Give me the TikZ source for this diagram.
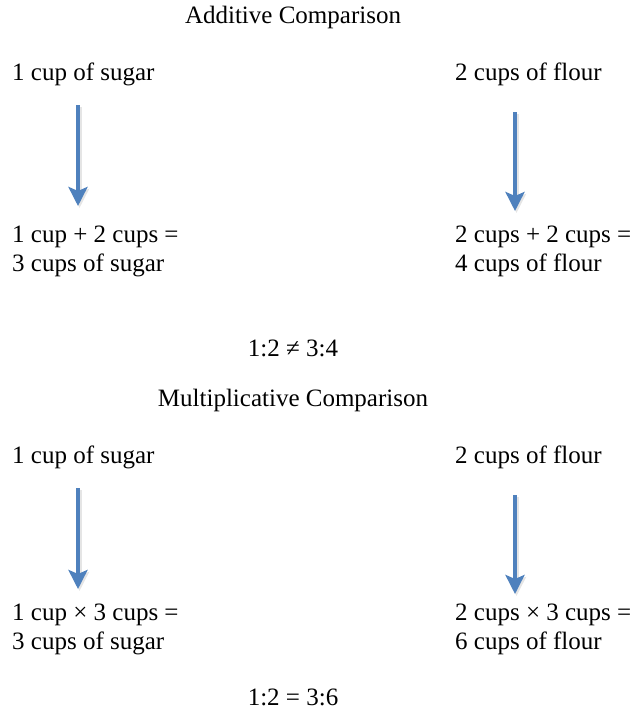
\documentclass[tikz,border=0pt]{standalone}
\usepackage{fontspec}
\setmainfont{Liberation Serif}
\usetikzlibrary{arrows.meta}
\definecolor{arrowblue}{RGB}{79,129,189}
\tikzset{
  txt/.style={inner sep=0pt, font=\fontsize{25}{29}\selectfont},
  lefttxt/.style={txt, anchor=base west, align=left},
  ctxt/.style={txt, anchor=base},
  bluearrow/.style={draw=arrowblue, line width=4.5pt, -{Stealth[width=19pt,length=19pt,inset=4pt]}},
  shadowarrow/.style={draw=black!10, line width=4.5pt, -{Stealth[width=19pt,length=19pt,inset=4pt]}}
}
\begin{document}
\begin{tikzpicture}[x=1pt,y=-1pt]
\useasboundingbox (0,0) rectangle (632,717);
% Additive
\node[ctxt] (t1) at (293,24) {Additive Comparison};
\node[lefttxt] (s1) at (12,80) {1 cup of sugar};
\node[lefttxt] (f1) at (455,80) {2 cups of flour};
\coordinate (a1s) at (78,105);
\coordinate (a1e) at (78,206);
\coordinate (a2s) at (515,112);
\coordinate (a2e) at (515,211);
\node[lefttxt] (s2) at (12,271) {1 cup + 2 cups =\\3 cups of sugar};
\node[lefttxt] (f2) at (455,271) {2 cups + 2 cups =\\4 cups of flour};
\node[ctxt] (r1) at (293,356) {1:2 ≠ 3:4};
% Multiplicative
\node[ctxt] (t2) at (293,406) {Multiplicative Comparison};
\node[lefttxt] (s3) at (12,463) {1 cup of sugar};
\node[lefttxt] (f3) at (455,463) {2 cups of flour};
\coordinate (b1s) at (78,488);
\coordinate (b1e) at (78,589);
\coordinate (b2s) at (515,495);
\coordinate (b2e) at (515,594);
\node[lefttxt] (s4) at (12,649) {1 cup × 3 cups =\\3 cups of sugar};
\node[lefttxt] (f4) at (455,649) {2 cups × 3 cups =\\6 cups of flour};
\node[ctxt] (r2) at (293,705) {1:2 = 3:6};
% arrows
\foreach \p/\q in {a1s/a1e,a2s/a2e,b1s/b1e,b2s/b2e}{
  \draw[shadowarrow] ([shift={(1.5,2)}]\p) -- ([shift={(1.5,2)}]\q);
  \draw[bluearrow] (\p) -- (\q);
}
\end{tikzpicture}
\end{document}
